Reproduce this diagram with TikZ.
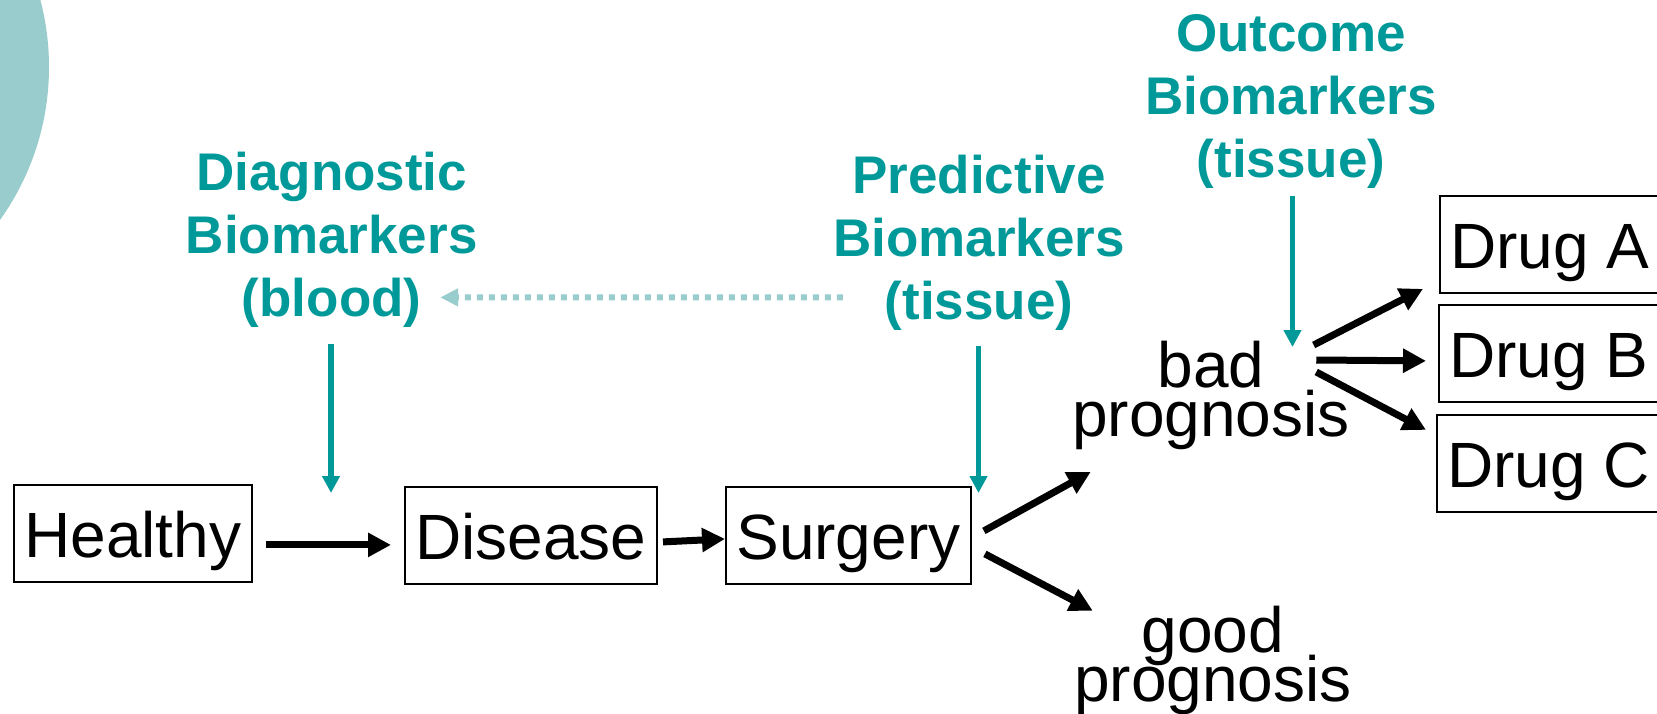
\documentclass[tikz,border=0pt]{standalone}
\usepackage{fontspec}
\setmainfont{Liberation Sans}
\usetikzlibrary{arrows.meta,calc}
\definecolor{tealtxt}{RGB}{0,153,153}
\definecolor{tealpale}{RGB}{153,204,204}
\newcommand{\nolineskip}{\lineskiplimit-1000pt\relax}
\begin{document}
\begin{tikzpicture}[x=1pt,y=-1pt,
  box/.style={draw, line width=1.8pt, inner xsep=10.5pt, inner ysep=0pt, text height=73pt, text depth=24pt,
    font=\fontsize{64}{64}\selectfont, anchor=north west},
  plain/.style={align=center, inner sep=0pt, anchor=north,
    font={\fontsize{64}{49}\selectfont\nolineskip}},
  bm/.style={align=center, inner sep=0pt, anchor=north, text=tealtxt,
    font={\fontsize{53}{63}\selectfont\bfseries\nolineskip}},
  blk/.style={line width=7pt, -{Triangle[length=23pt,width=23pt]}},
  tarr/.style={draw=tealtxt, line width=5.5pt, -{Triangle[length=17pt,width=17pt]}},
  dotarr/.style={draw=tealpale, line width=6pt, dash pattern=on 6pt off 6pt, -{Triangle[length=18pt,width=17pt]}}
]
\useasboundingbox (0,0) rectangle (1657,714);
\fill[white] (0,0) rectangle (1657,714);
\clip (0,0) rectangle (1657,714);
\fill[tealpale] (-214,67) circle[radius=263];

\node[bm] (diag) at (331.7,152) {Diagnostic\\Biomarkers\\(blood)};
\node[bm] (pred) at (979,154.8) {Predictive\\Biomarkers\\(tissue)};
\node[bm] (outc) at (1291,14) {Outcome\\Biomarkers\\(tissue)};

\node[box] (healthy) at (13,484) {Healthy};
\node[box] (disease) at (404,486) {Disease};
\node[box] (surgery) at (725,486) {Surgery};
\node[box] (druga) at (1439,195) {Drug A};
\node[box] (drugb) at (1438,304) {Drug B};
\node[box] (drugc) at (1436,414) {Drug C};
\node[plain] (bad) at (1211,341.2) {bad\\prognosis};
\node[plain] (good) at (1213,606) {good\\prognosis};

\draw[blk] ($(healthy.east)+(13,11.5)$) -- ($(disease.west)+(-13,9.5)$);
\draw[blk] ($(disease.east)+(5,6.5)$) -- ($(surgery.west)+(0,3.5)$);
\draw[blk] ($(surgery.east)+(12,-4.5)$) -- ($(bad.south west)+(18.7,21.6)$);
\draw[blk] ($(surgery.east)+(13,18.5)$) -- ($(good.north west)+(18.7,4.7)$);
\draw[blk] ($(bad.north east)+(-36.3,3.8)$) -- ($(druga.west)+(-16,44.5)$);
\draw[blk] ($(bad.north east)+(-33.7,18.8)$) -- ($(drugb.west)+(-12,7.5)$);
\draw[blk] ($(bad.north east)+(-33.7,30.8)$) -- ($(drugc.west)+(-10,-33.5)$);

\coordinate (dtip) at (331,493);
\coordinate (ptip) at (978.5,493);
\coordinate (otip) at (1292.5,347);
\draw[tarr, shorten <=16pt] (diag.south -| dtip) -- (dtip);
\draw[tarr, shorten <=15pt] (pred.south -| ptip) -- (ptip);
\draw[tarr, shorten <=8pt] (outc.south -| otip) -- (otip);

\draw[dotarr] ($(pred.west)+(9.8,54.6)$) -- ($(diag.east)+(-37.5,57.5)$);
\end{tikzpicture}
\end{document}
